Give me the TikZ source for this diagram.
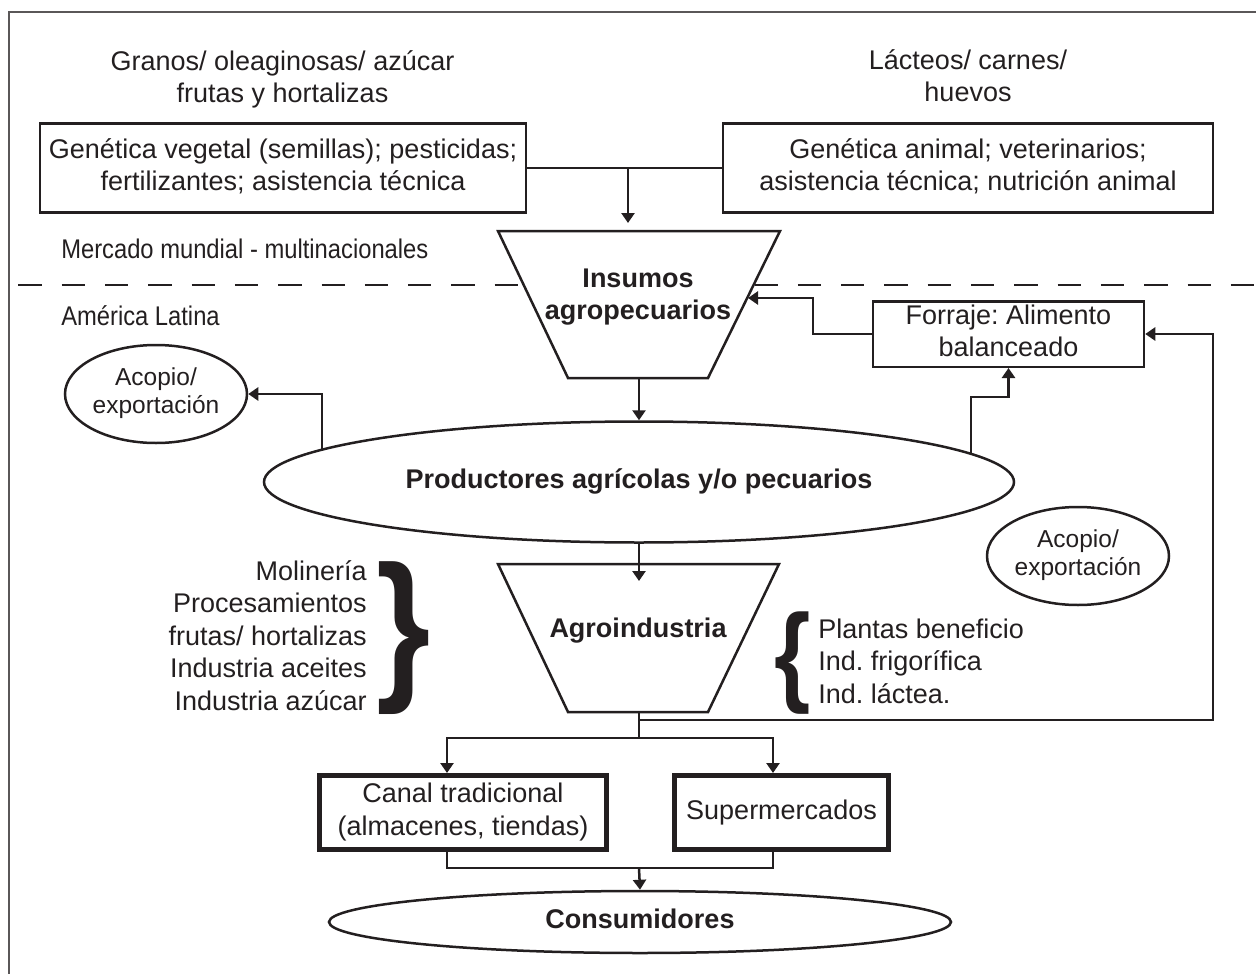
\documentclass[tikz,border=0pt]{standalone}
\usepackage{fontspec}
\setmainfont{Liberation Sans}
\newfontfamily\narrowfont{Liberation Sans}[FakeStretch=0.88]
\usetikzlibrary{arrows.meta,shapes.geometric}
\definecolor{ink}{RGB}{35,31,32}
\newcommand{\diagfont}{\fontsize{27}{32.5}\selectfont}
\frenchspacing

\begin{document}
\begin{tikzpicture}[x=1pt, y=-1pt, line width=2.5pt, color=ink,
    font=\diagfont,
    >={Triangle[length=10pt, width=13pt]},
    txt/.style={inner sep=0pt, align=center},
    region/.style={txt, anchor=base west, font=\narrowfont\fontsize{27}{32}\selectfont},
    box/.style={draw, fill=white, inner sep=0pt, align=center},
    heavybox/.style={box, line width=5pt},
    oval/.style={ellipse, draw, fill=white, inner sep=0pt, align=center},
    funnel/.style={draw, fill=white, line join=miter}]
  \useasboundingbox (0,0) rectangle (1256,974);

  % marco y division mundial / regional
  \draw[line width=2pt, ink!75] (9,974) -- (9,12) -- (1256,12);
  \draw[dash pattern=on 23.3pt off 20pt] (18.4,285) -- (1256,285);
  \node[region] (mundial) at (60,258) {Mercado mundial - multinacionales};
  \node[region] (latina) at (60,325) {América Latina};

  % proveedores de insumos
  \node[txt] (veg-t) at (282.5,80) {\strut Granos/ oleaginosas/ azúcar\\\strut frutas y hortalizas};
  \node[txt] (ani-t) at (968,79) {\strut Lácteos/ carnes/\\\strut huevos};
  \node[box, minimum width=486pt, minimum height=89pt] (veg) at (283,168)
    {\strut Genética vegetal (semillas); pesticidas;\\\strut fertilizantes; asistencia técnica};
  \node[box, minimum width=490pt, minimum height=89pt] (ani) at (968,168)
    {\strut Genética animal; veterinarios;\\\strut asistencia técnica; nutrición animal};

  \draw[funnel] (498,231) -- (780,231) -- (708,378) -- (568,378) -- cycle;
  \node[txt, font=\diagfont\bfseries] (ins) at (638,297) {\strut Insumos\\\strut agropecuarios};
  \coordinate (ins-in) at (628,223);
  \coordinate (ins-side) at (748,298);
  \coordinate (ins-out) at (639,378);

  \node[box, minimum width=271pt, minimum height=65.5pt] (forr) at (1008.5,334)
    {\strut Forraje: Alimento\\\strut balanceado};

  % produccion
  \node[oval, font=\diagfont\bfseries, minimum width=750pt, minimum height=121pt] (prod) at (639,482)
    {\strut Productores agrícolas y/o pecuarios};
  \node[oval, font=\fontsize{24.5}{27.5}\selectfont, minimum width=182pt, minimum height=98pt] (acopio-l) at (156,394)
    {\strut Acopio/\\\strut exportación};
  \node[oval, font=\fontsize{24.5}{27.5}\selectfont, minimum width=182pt, minimum height=98pt] (acopio-r) at (1078,556)
    {\strut Acopio/\\\strut exportación};

  % agroindustria
  \draw[funnel] (498,564) -- (779,564) -- (708,712) -- (568,712) -- cycle;
  \node[txt, font=\diagfont\bfseries] (agro) at (638,630.5) {\strut Agroindustria};
  \coordinate (agro-in) at (639,581);
  \coordinate (agro-out) at (639,712);

  \node[txt, align=right, anchor=east] (veg-ind) at (368,638.5)
    {\strut Molinería\\\strut Procesamientos\\\strut frutas/ hortalizas\\\strut Industria aceites\\\strut Industria azúcar};
  \node[txt, font=\bfseries\fontsize{164}{164}\selectfont] (brace-l) at (403.5,638) {\scalebox{0.85}[1]{\}}};
  \node[txt, font=\bfseries\fontsize{110}{110}\selectfont] (brace-r) at (792.5,663.5) {\scalebox{0.85}[1]{\{}};
  \node[txt, align=left, anchor=west] (ani-ind) at (817,664)
    {\strut Plantas beneficio\\\strut Ind. frigorífica\\\strut Ind. láctea.};

  % distribucion
  \node[heavybox, minimum width=287pt, minimum height=74pt] (canal) at (463,812.5)
    {\strut Canal tradicional\\\strut (almacenes, tiendas)};
  \node[heavybox, minimum width=214pt, minimum height=74pt] (super) at (781.5,812.5)
    {\strut Supermercados};
  \node[oval, font=\diagfont\bfseries, minimum width=622pt, minimum height=62pt] (cons) at (640,922)
    {\strut Consumidores};

  \coordinate (forr-lift) at (1008.5,397);
  \coordinate (split) at (639,738);
  \coordinate (loop-s) at (639,720);
  \coordinate (loop-r) at (1213,720);
  \coordinate (merge) at (639,868);

  % conectores
  \draw[->] (veg.east) -| (ins-in);
  \draw (ani.west) -- (ins-in |- ani.west);
  \draw[->] (forr.west) -- (813,334) |- (ins-side);
  \draw[->] (ins-out) -- (prod.north);
  \draw[->] (prod.174.5) |- (acopio-l.east);
  \draw[->] (prod.5.1) |- (forr-lift) -- (forr.south);
  \draw[->] (prod.south) -- (agro-in);
  \draw (agro-out) -- (split);
  \draw[->] (split) -| ([xshift=-16pt]canal.north);
  \draw[->] (split) -| ([xshift=-8.5pt]super.north);
  \draw[->] (loop-s) -- (loop-r) |- (forr.east);
  \draw ([xshift=-16pt]canal.south) |- (merge);
  \draw ([xshift=-8.5pt]super.south) |- (merge);
  \draw[->] (merge) -- (cons.north);
\end{tikzpicture}
\end{document}
